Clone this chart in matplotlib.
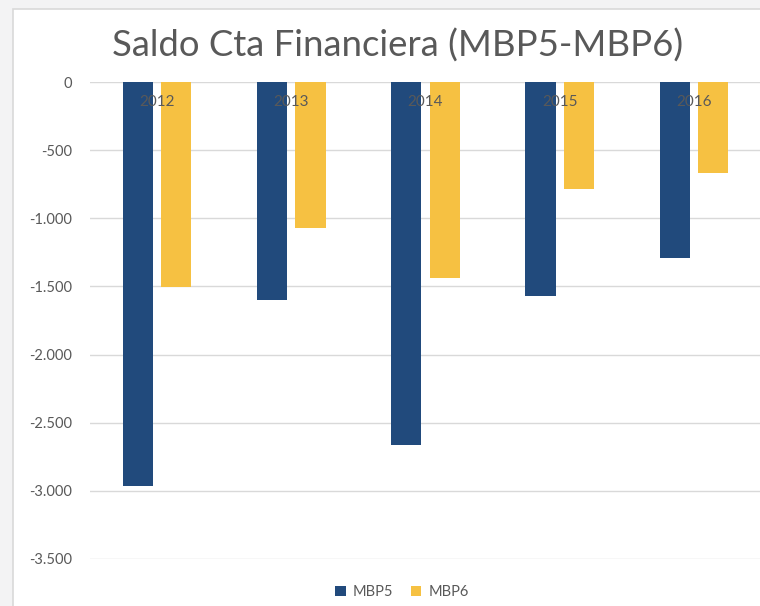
import numpy as np
import matplotlib.pyplot as plt
from matplotlib.patches import Rectangle
from matplotlib.ticker import FuncFormatter

# datos
anios = ["2012", "2013", "2014", "2015", "2016"]
mbp5 = [-2962, -1600, -2660, -1567, -1290]
mbp6 = [-1505, -1068, -1435, -782, -665]
series = ["MBP5", "MBP6"]
colores = ["#214a7c", "#f6c142"]
gris = "#595959"

plt.rcParams['font.family'] = ['Lato', 'DejaVu Sans']

fig = plt.figure(figsize=(7.6, 6.06), dpi=100, facecolor="#f3f3f4")

# fondo: marco blanco del area del grafico
fondo = fig.add_axes([0, 0, 1, 1], zorder=0)
fondo.set_xlim(0, 760)
fondo.set_ylim(606, 0)
fondo.axis('off')
fondo.add_patch(Rectangle((13, 9), 800, 700, facecolor="white", edgecolor="#d9d9d9", linewidth=1.2))

ax = fig.add_axes([90 / 760, 47 / 606, 671 / 760, 477 / 606], zorder=1)
ax.set_facecolor("none")

x = np.arange(len(anios))
ancho = 0.225
ax.bar(x - 0.143, mbp5, ancho, color=colores[0], label=series[0], zorder=3)
ax.bar(x + 0.143, mbp6, ancho, color=colores[1], label=series[1], zorder=3)

ax.set_xlim(-0.5, len(anios) - 0.5)
ax.set_ylim(-3500, 0)
ax.set_yticks(np.arange(-3500, 1, 500))
ax.yaxis.set_major_formatter(FuncFormatter(lambda v, p: f"{int(v):,}".replace(",", ".")))
ax.grid(axis='y', color="#d9d9d9", linewidth=1, zorder=0)
ax.tick_params(axis='y', length=0, pad=13, labelsize=10.5, labelcolor=gris)
ax.set_xticks([])
for s in ax.spines.values():
    s.set_visible(False)

# etiquetas de categoria junto al eje (arriba, sobre las barras)
for i, a in enumerate(anios):
    ax.text(i, 0.958, a, transform=ax.get_xaxis_transform(), ha='center', va='center',
            fontsize=11, color=gris, zorder=4)

fig.text(398 / 760, 1 - 46 / 606, "Saldo Cta Financiera (MBP5-MBP6)", ha='center', va='center',
         fontsize=26.3, color=gris, zorder=5)

fig.legend(loc='center', bbox_to_anchor=(402 / 760, 1 - 592 / 606), ncol=2, frameon=False,
           fontsize=10.5, labelcolor=gris, handlelength=0.7, handleheight=0.7,
           handletextpad=0.5, columnspacing=1.2)

plt.savefig("out.png", dpi=100, facecolor=fig.get_facecolor())
plt.close()
